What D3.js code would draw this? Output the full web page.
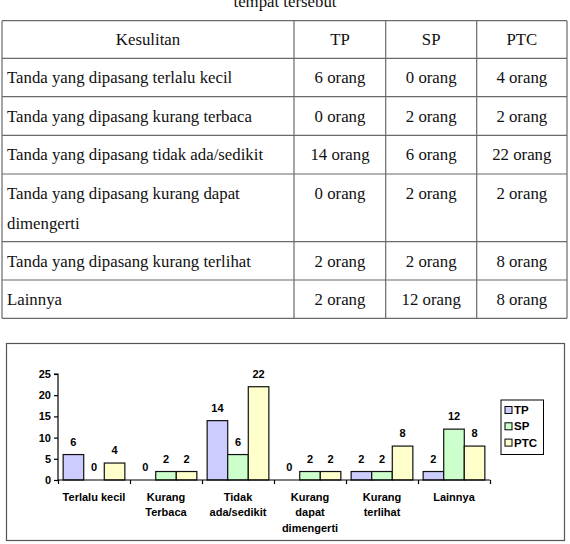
<!DOCTYPE html>
<html>
<head>
<meta charset="utf-8">
<script src="https://cdn.jsdelivr.net/npm/d3@7"></script>
<style>
  html, body { margin: 0; padding: 0; background: #fff; }
  svg { display: block; }
</style>
</head>
<body>
<svg id="chart" width="570" height="544"></svg>
<script>
// ---- Data ----
const tableTitle = "tempat tersebut";
const tableHeader = ["Kesulitan", "TP", "SP", "PTC"];
const rowLabels = [
  ["Tanda yang dipasang terlalu kecil"],
  ["Tanda yang dipasang kurang terbaca"],
  ["Tanda yang dipasang tidak ada/sedikit"],
  ["Tanda yang dipasang kurang dapat", "dimengerti"],
  ["Tanda yang dipasang kurang terlihat"],
  ["Lainnya"]
];
const categories = [
  ["Terlalu kecil"],
  ["Kurang", "Terbaca"],
  ["Tidak", "ada/sedikit"],
  ["Kurang", "dapat", "dimengerti"],
  ["Kurang", "terlihat"],
  ["Lainnya"]
];
const seriesNames = ["TP", "SP", "PTC"];
const tpValues  = [6, 0, 14, 0, 2, 2];
const spValues  = [0, 2, 6, 2, 2, 12];
const ptcValues = [4, 2, 22, 2, 8, 8];
const yTicks = [0, 5, 10, 15, 20, 25];
const seriesColors = ["#ccccff", "#ccffcc", "#ffffcc"];

const seriesValues = [tpValues, spValues, ptcValues];
const svg = d3.select("#chart");

// ---- Table ----
const serif = "'Liberation Serif', 'Times New Roman', serif";
const tFont = 16.8;
svg.append("text").attr("x", 285).attr("y", 7).attr("text-anchor", "middle")
  .attr("font-family", serif).attr("font-size", tFont).attr("fill", "#111").text(tableTitle);

const colEdges = [2, 294, 385.7, 476.7, 567];
const rowEdges = [20.7, 58.3, 96.7, 135.3, 174, 241.7, 280, 318.3];
const tbl = svg.append("g");
const lineColor = "#6a6a6a";
rowEdges.forEach(y => tbl.append("line").attr("x1", colEdges[0]).attr("x2", colEdges[4])
  .attr("y1", y).attr("y2", y).attr("stroke", lineColor).attr("stroke-width", 1.2));
colEdges.forEach(x => tbl.append("line").attr("x1", x).attr("x2", x)
  .attr("y1", rowEdges[0]).attr("y2", rowEdges[rowEdges.length - 1]).attr("stroke", lineColor).attr("stroke-width", 1.2));

function cellText(x, y, anchor, txt) {
  tbl.append("text").attr("x", x).attr("y", y).attr("text-anchor", anchor)
    .attr("font-family", serif).attr("font-size", tFont).attr("fill", "#111").text(txt);
}
const colCenters = [148, 340, 431.2, 521.8];
tableHeader.forEach((h, i) => cellText(colCenters[i], (rowEdges[0] + rowEdges[1]) / 2 + 5.8, "middle", h));
rowLabels.forEach((lines, r) => {
  const top = rowEdges[r + 1];
  const firstY = lines.length > 1 ? top + 24.5 : (top + rowEdges[r + 2]) / 2 + 5.8;
  lines.forEach((ln, k) => cellText(7, firstY + k * 30.6, "start", ln));
  seriesValues.forEach((vals, s) => cellText(colCenters[s + 1], firstY, "middle", vals[r] + " orang"));
});

// ---- Chart ----
const sans = "'Liberation Sans', Arial, sans-serif";
const cFont = 11;
svg.append("rect").attr("x", 6.5).attr("y", 343.5).attr("width", 558).attr("height", 197)
  .attr("fill", "#fff").attr("stroke", "#555").attr("stroke-width", 1.2);

const plotLeft = 58, plotRight = 490, plotTop = 374, plotBottom = 480;
const x = d3.scaleBand().domain(d3.range(categories.length)).range([plotLeft, plotRight]).paddingInner(0).paddingOuter(0);
const xs = d3.scaleBand().domain(d3.range(seriesNames.length)).range([0, x.bandwidth()]).paddingInner(0).paddingOuter(0.25);
const y = d3.scaleLinear().domain([0, 25]).range([plotBottom, plotTop]);

const g = svg.append("g");

// bars
categories.forEach((c, i) => {
  seriesValues.forEach((vals, s) => {
    const v = vals[i];
    const bx = x(i) + xs(s);
    if (v > 0) {
      g.append("rect").attr("x", bx).attr("y", y(v)).attr("width", xs.bandwidth()).attr("height", y(0) - y(v))
        .attr("fill", seriesColors[s]).attr("stroke", "#111").attr("stroke-width", 1.2);
    }
    g.append("text").attr("x", bx + xs.bandwidth() / 2).attr("y", y(v) - 9)
      .attr("text-anchor", "middle").attr("font-family", sans).attr("font-weight", "bold")
      .attr("font-size", cFont).attr("fill", "#000").text(v);
  });
});

// y axis
const yAxis = d3.axisLeft(y).tickValues(yTicks).tickSize(4).tickPadding(3);
const yg = g.append("g").attr("transform", `translate(${plotLeft},0)`).call(yAxis);
yg.select(".domain").attr("stroke", "#000").attr("stroke-width", 1.2).attr("d", `M-4,${plotTop}H0V${plotBottom}`);
yg.selectAll(".tick line").attr("stroke", "#000").attr("stroke-width", 1.2);
yg.selectAll(".tick text").attr("font-family", sans).attr("font-weight", "bold").attr("font-size", cFont).attr("fill", "#000");

// x axis
const xScaleEdges = d3.scaleLinear().domain([0, categories.length]).range([plotLeft, plotRight]);
const xAxis = d3.axisBottom(xScaleEdges).tickValues(d3.range(categories.length + 1)).tickSize(4).tickFormat("");
const xg = g.append("g").attr("transform", `translate(0,${plotBottom})`).call(xAxis);
xg.select(".domain").attr("stroke", "#000").attr("stroke-width", 1.2).attr("d", `M${plotLeft},0H${plotRight}`);
xg.selectAll(".tick line").attr("stroke", "#000").attr("stroke-width", 1.2);

categories.forEach((lines, i) => {
  lines.forEach((ln, k) => {
    g.append("text").attr("x", x(i) + x.bandwidth() / 2).attr("y", 500.5 + k * 15.5)
      .attr("text-anchor", "middle").attr("font-family", sans).attr("font-weight", "bold")
      .attr("font-size", cFont).attr("fill", "#000").text(ln);
  });
});

// legend
const lg = svg.append("g");
lg.append("rect").attr("x", 501).attr("y", 400).attr("width", 42.5).attr("height", 54.5)
  .attr("fill", "#fff").attr("stroke", "#000").attr("stroke-width", 1);
seriesNames.forEach((n, s) => {
  const cy = 410 + s * 16.3;
  lg.append("rect").attr("x", 505).attr("y", cy - 3.5).attr("width", 7).attr("height", 7)
    .attr("fill", seriesColors[s]).attr("stroke", "#000").attr("stroke-width", 1);
  lg.append("text").attr("x", 514).attr("y", cy + 4).attr("font-family", sans).attr("font-weight", "bold")
    .attr("font-size", 11.5).attr("fill", "#000").text(n);
});
</script>
</body>
</html>
